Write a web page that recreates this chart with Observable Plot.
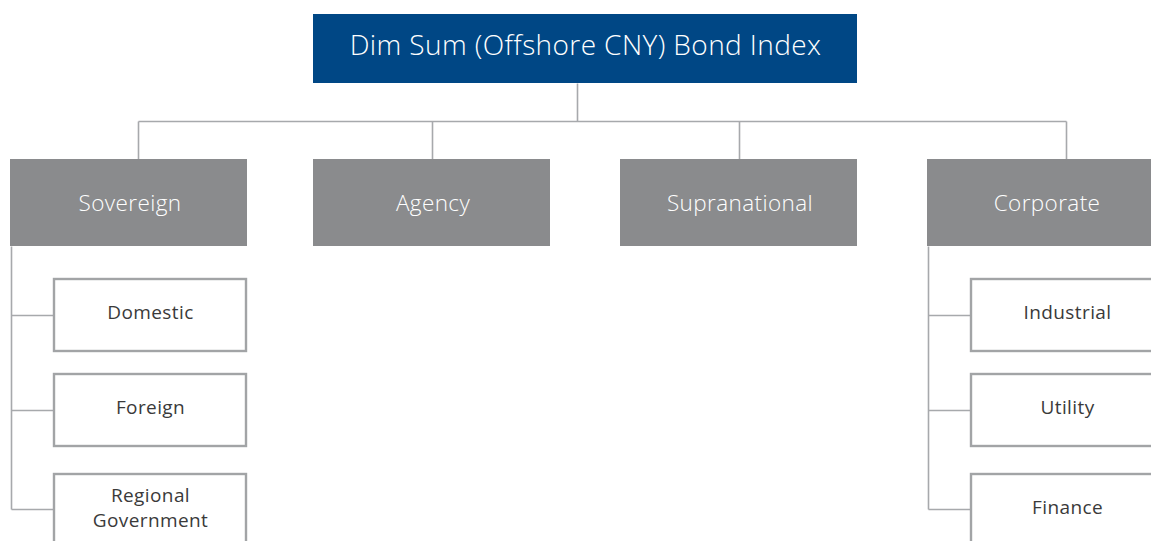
<!DOCTYPE html>
<html><head><meta charset="utf-8">
<script src="https://cdn.jsdelivr.net/npm/d3@7"></script>
<script src="https://cdn.jsdelivr.net/npm/@observablehq/plot@0.6"></script>
<style>body{margin:0;background:#fff;overflow:hidden} svg text{letter-spacing:0.4px}</style>
</head><body><div id="chart"></div>
<script>
// ---- data (names only) ----
const rootName = "Dim Sum (Offshore CNY) Bond Index";
const sectors = ["Sovereign", "Agency", "Supranational", "Corporate"];
const sovereignChildren = ["Domestic", "Foreign", "Regional\nGovernment"];
const corporateChildren = ["Industrial", "Utility", "Finance"];

// ---- layout (pixel units, mapped through linear scales) ----
const root = {x1: 313, x2: 857, y1: 14, y2: 83, stemX: 577};
const busY = 121;
const sectorLeft = [10, 313, 620, 927], sectorW = 237, sY1 = 159, sY2 = 246;
const sectorStem = [138, 432, 739, 1066];
const childTop = [278, 373, 473], childH = 74, childIndent = 43, childW = 194;
const branchY = [315, 410, 509];

const sectorRows = sectors.map((name, i) => ({
  name, x1: sectorLeft[i], x2: sectorLeft[i] + sectorW, y1: sY1, y2: sY2,
  cx: sectorLeft[i] + sectorW / 2 + 1, cy: (sY1 + sY2) / 2 + 1, stem: sectorStem[i]
}));

const childRows = [];
[[0, sovereignChildren], [3, corporateChildren]].forEach(([si, kids]) => {
  kids.forEach((name, j) => {
    const x1 = sectorLeft[si] + childIndent;
    childRows.push({
      name, parent: si,
      x1: x1 + 1, x2: x1 + childW - 1, y1: childTop[j] + 1, y2: childTop[j] + childH - 1,
      cx: x1 + childW / 2, cy: childTop[j] + 33,
      bx: sectorLeft[si] + 1, by: branchY[j]
    });
  });
});

const links = [
  {x1: root.stemX, y1: root.y2, x2: root.stemX, y2: busY},
  {x1: sectorStem[0], y1: busY, x2: sectorStem[3], y2: busY},
  ...sectorRows.map(d => ({x1: d.stem, y1: busY, x2: d.stem, y2: sY1})),
  ...[0, 3].map(si => ({x1: sectorLeft[si] + 1, y1: sY2, x2: sectorLeft[si] + 1,
      y2: branchY[2]})),
  ...childRows.map(d => ({x1: d.bx, y1: d.by, x2: d.x1, y2: d.by}))
];

const font = "'Open Sans', 'DejaVu Sans', sans-serif";
const chart = Plot.plot({
  width: 1151, height: 541, margin: 0,
  x: {type: "linear", domain: [0, 1151], range: [0, 1151], axis: null},
  y: {type: "linear", domain: [0, 541], range: [0, 541], axis: null},
  style: {fontFamily: font, background: "#fff"},
  marks: [
    Plot.link(links, {x1: "x1", y1: "y1", x2: "x2", y2: "y2", stroke: "#a7a9ac", strokeWidth: 1.6}),
    Plot.rect([root], {x1: "x1", x2: "x2", y1: "y1", y2: "y2", fill: "#004785", inset: 0}),
    Plot.text([root], {x: d => (d.x1 + d.x2) / 2, y: () => 46, text: () => rootName,
      fill: "#fff", fontSize: 28, fontWeight: 300}),
    Plot.rect(sectorRows, {x1: "x1", x2: "x2", y1: "y1", y2: "y2", fill: "#8a8b8d", inset: 0}),
    Plot.text(sectorRows, {x: "cx", y: "cy", text: "name", fill: "#fff", fontSize: 22.5, fontWeight: 300}),
    Plot.rect(childRows, {x1: "x1", x2: "x2", y1: "y1", y2: "y2", fill: "#fff",
      stroke: "#a2a4a6", strokeWidth: 2.4, inset: 0}),
    Plot.text(childRows, {x: "cx", y: "cy", text: "name", fill: "#3a3a3a", fontSize: 19, fontWeight: 400, lineHeight: 1.3})
  ]
});
document.getElementById("chart").appendChild(chart);
</script>
</body></html>
